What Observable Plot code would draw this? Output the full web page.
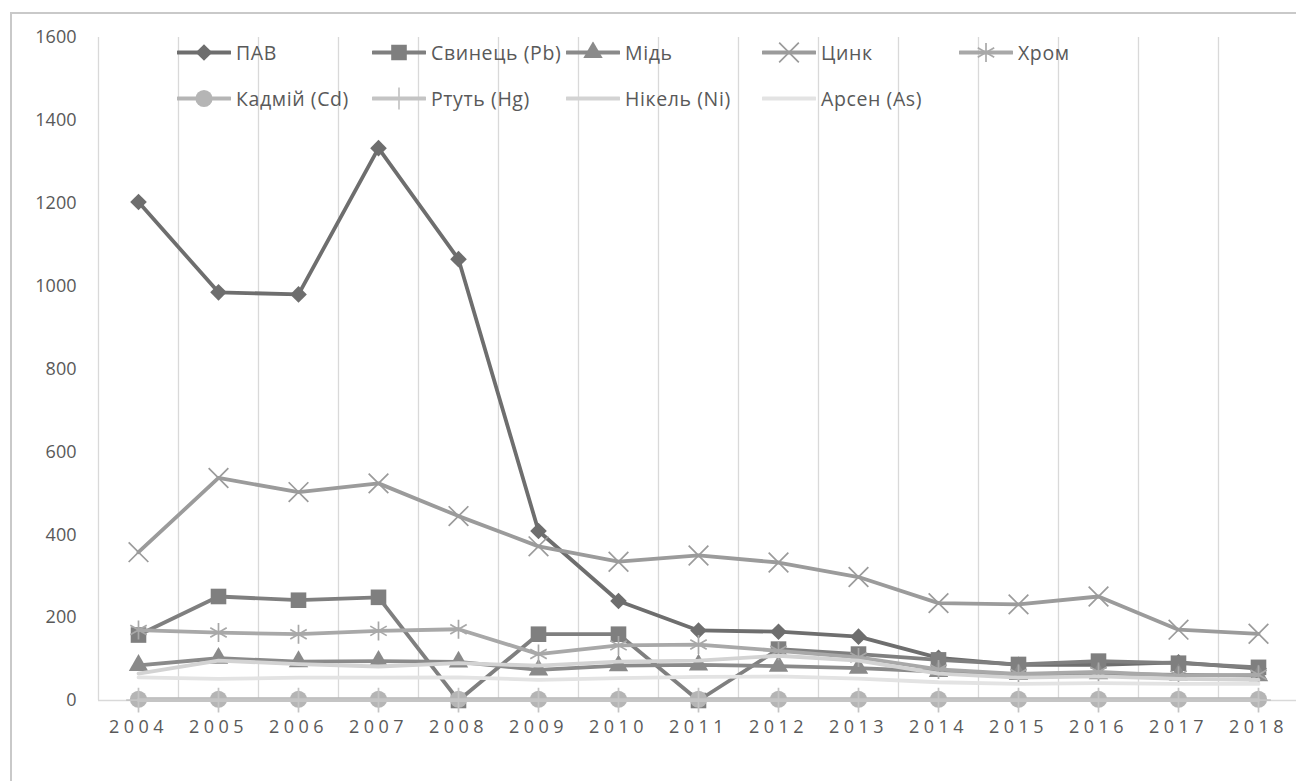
<!DOCTYPE html>
<html><head><meta charset="utf-8">
<script src="https://cdn.jsdelivr.net/npm/d3@7"></script>
<script src="https://cdn.jsdelivr.net/npm/@observablehq/plot@0.6"></script>
<style>
html,body{margin:0;padding:0;background:#fff;}
#wrap{position:relative;width:1296px;height:781px;overflow:hidden;font-family:"Open Sans",sans-serif;background:#fff;}
#chart{position:absolute;left:0;top:0;z-index:1;}
#legend{position:absolute;left:0;top:0;width:1296px;height:130px;z-index:3;}
.item{position:absolute;display:flex;align-items:center;font-size:19.5px;letter-spacing:0.6px;color:#595959;white-space:nowrap;transform:translateY(-50%);}
.item svg{margin-right:5px;}
#chart g[aria-label="x-axis tick label"] text{letter-spacing:4.5px;}
</style></head><body>
<div id="wrap"><div id="chart"></div><div id="legend"></div></div>
<script>
const years = [2004,2005,2006,2007,2008,2009,2010,2011,2012,2013,2014,2015,2016,2017,2018];
const yTicks = [0,200,400,600,800,1000,1200,1400,1600];

const names = ["ПАВ","Свинець (Pb)","Мідь","Цинк","Хром","Кадмій (Cd)","Ртуть (Hg)","Нікель (Ni)","Арсен (As)"];
const pav = [1203, 985, 980, 1333, 1065, 409, 240, 169, 166, 154, 103, 86, 86, 92, 77];
const pb  = [158, 251, 242, 249, 0, 160, 160, 0, 124, 112, 98, 87, 95, 90, 80];
const cu  = [85, 102, 94, 95, 93, 74, 84, 86, 83, 78, 70, 63, 65, 62, 60];
const zn  = [358, 537, 503, 524, 445, 372, 335, 350, 333, 298, 235, 232, 251, 171, 161];
const cr  = [170, 164, 160, 168, 172, 112, 133, 135, 120, 104, 75, 64, 69, 60, 62];
const cd  = [3, 3, 3, 3, 3, 3, 3, 3, 3, 3, 3, 3, 3, 3, 3];
const hg  = [1, 1, 1, 1, 1, 1, 1, 1, 1, 1, 1, 1, 1, 1, 1];
const ni  = [65, 96, 88, 82, 90, 84, 94, 96, 108, 96, 65, 55, 58, 52, 50];
const as  = [56, 52, 55, 55, 56, 50, 54, 57, 58, 53, 44, 40, 42, 40, 40];

const colors  = ["#6e6e6e","#7f7f7f","#8a8a8a","#9b9b9b","#a8a8a8","#b5b5b5","#c4c4c4","#d3d3d3","#e3e3e3"];
const symbols = ["diamond2","square","triangle","times","asterisk","circle","plus",null,null];
const radii   = [7.5, 8.8, 7.2, 9, 9, 8.6, 8, 0, 0];
const filled  = [true,true,true,false,false,true,false,false,false];
const valuesList = [pav,pb,cu,zn,cr,cd,hg,ni,as];

const marks = [];
const edges = years.map(y => y - 0.5).concat([years[years.length-1] + 0.5]);
marks.push(Plot.ruleX(edges, {stroke:"#d9d9d9", strokeWidth:1.3}));
marks.push(Plot.ruleY([0], {stroke:"#d9d9d9", strokeWidth:1.3}));

names.forEach((name, k) => {
  const rows = years.map((y, i) => ({series:name, year:y, value:valuesList[k][i]}));
  marks.push(Plot.line(rows, {x:"year", y:"value", stroke:colors[k], strokeWidth:3.8, strokeLinejoin:"round", strokeLinecap:"round"}));
  if (symbols[k]) {
    if (filled[k]) {
      marks.push(Plot.dot(rows, {x:"year", y:"value", symbol:symbols[k], r:radii[k], fill:colors[k], stroke:"none"}));
    } else {
      marks.push(Plot.dot(rows, {x:"year", y:"value", symbol:symbols[k], r:radii[k], fill:"none", stroke:colors[k], strokeWidth:1.7}));
    }
  }
});

marks.push(Plot.axisX(years, {tickSize:0, tickPadding:20, tickFormat:d => String(d), fontSize:18, fill:"#595959", label:null}));
marks.push(Plot.axisY(yTicks, {tickSize:0, tickPadding:22, tickFormat:d => String(d), fontSize:18, fill:"#595959", label:null}));

const chart = Plot.plot({
  width:1296, height:781,
  marginLeft:98, marginRight:0, marginTop:37, marginBottom:81,
  style:{fontFamily:"Open Sans", background:"transparent", color:"#595959"},
  x:{type:"linear", domain:[2003.5, 2018.5], range:[98, 1298], label:null},
  y:{type:"linear", domain:[0, 1600], range:[700, 37], label:null},
  marks
});
// decorative outer chart-area border (cropped on the right and bottom, as in the source)
const svgSel = d3.select(chart);
svgSel.append("path")
  .attr("d", "M11,781V13H1296")
  .attr("fill", "none").attr("stroke", "#c9c9c9").attr("stroke-width", 2);
document.getElementById("chart").appendChild(chart);

// Legend
const d3sym = {diamond2:d3.symbolDiamond2, square:d3.symbolSquare, triangle:d3.symbolTriangle, times:d3.symbolTimes, asterisk:d3.symbolAsterisk, circle:d3.symbolCircle, plus:d3.symbolPlus};
const legend = document.getElementById("legend");
const colX = [177, 372, 566, 762, 959];
const rowY = [52, 98];
names.forEach((name, k) => {
  const row = k < 5 ? 0 : 1;
  const col = k < 5 ? k : k - 5;
  const div = document.createElement("div");
  div.className = "item";
  div.style.left = colX[col] + "px";
  div.style.top = rowY[row] + "px";
  const svg = d3.create("svg").attr("width", 54).attr("height", 22);
  svg.append("line").attr("x1", 1).attr("x2", 53).attr("y1", 11).attr("y2", 11)
    .attr("stroke", colors[k]).attr("stroke-width", 3.8).attr("stroke-linecap","round");
  if (symbols[k]) {
    const p = d3.symbol(d3sym[symbols[k]], radii[k]*radii[k]*Math.PI)();
    const path = svg.append("path").attr("d", p).attr("transform", "translate(27,11)");
    if (filled[k]) path.attr("fill", colors[k]);
    else path.attr("fill","none").attr("stroke", colors[k]).attr("stroke-width",1.7);
  }
  div.appendChild(svg.node());
  const span = document.createElement("span");
  span.textContent = name;
  div.appendChild(span);
  legend.appendChild(div);
});
</script>
</body></html>
